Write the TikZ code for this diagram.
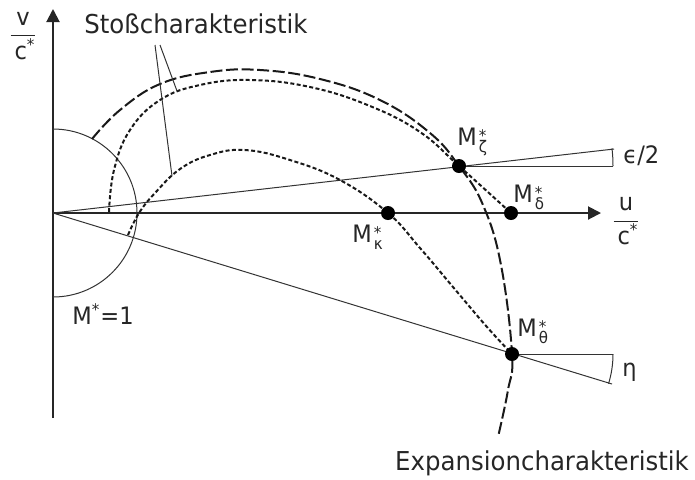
\documentclass[tikz,border=0pt]{standalone}
\usepackage{fontspec}
\setmainfont[FakeStretch=0.94]{DejaVu Sans}
\usetikzlibrary{arrows.meta}

% label for a state point: M with star over the index
\newcommand{\Mlab}[1]{M\kern1pt\raisebox{-3.8pt}{\fontsize{8}{8}\selectfont\makebox[0pt][l]{\raisebox{5.5pt}{*}}#1}}

\pgfdeclareradialshading{dotblur}{\pgfpoint{0bp}{0bp}}{color(0bp)=(black); color(28bp)=(black); color(50bp)=(white)}

\tikzset{
  axis/.style={line width=1pt, draw=black!85, -{Triangle[length=6.5pt,width=6.5pt]}},
  thinline/.style={line width=0.5pt, draw=black!80},
  shockpolar/.style={line width=1pt, draw=black!90, dash pattern=on 2pt off 1.2pt},
  expansion/.style={line width=1pt, draw=black!90, dash pattern=on 6pt off 1.8pt},
  statept/.style={circle, minimum size=7pt, inner sep=0pt, shading=dotblur},
  lbl/.style={font=\fontsize{12}{14}\selectfont, text=black!85, inner sep=0pt},
  biglbl/.style={font=\fontsize{13}{15}\selectfont, text=black!85, inner sep=0pt}
}

\begin{document}
\begin{tikzpicture}[x=0.5pt, y=-0.5pt]
\useasboundingbox (0,0) rectangle (695,479);

% Points
\coordinate (O) at (53,213);
\coordinate (Mz) at (459,166);
\coordinate (Md) at (511,213);
\coordinate (Mk) at (388,213);
\coordinate (Mt) at (512,354);

% Axes
\coordinate (vbot) at (53,418);
\coordinate (vtop) at (53,9);
\coordinate (uend) at (601,213);
\draw[axis] (vbot) -- (vtop);
\draw[axis] (O) -- (uend);
\node[lbl] (vlab) at (23,36) {$\displaystyle\frac{\mbox{\,v\,}}{\mbox{\,c\textsuperscript{*}}}$};
\node[lbl] (ulab) at (626,221) {$\displaystyle\frac{\mbox{\,u\,}}{\mbox{\,c\textsuperscript{*}}}$};

% Sonic circle
\draw[thinline] (O) ++(0,-84) arc[start angle=-90, end angle=90, radius=84];
\node[lbl, anchor=base west] (Mone) at (72,324) {M\textsuperscript{*}=1};

% Deflection lines
\coordinate (Ee) at (614,149);
\coordinate (Eh) at (613,166);
\draw[thinline] (O) -- (Ee);
\draw[thinline] (Mz) -- (Eh);
\draw[thinline] (Eh) arc[start angle=0, end angle=-6.6, radius=154];
\node[lbl, anchor=base west] (eps) at (623,163) {ϵ/2};

\coordinate (He) at (612,384);
\coordinate (Hh) at (613,354);
\draw[thinline] (O) -- (He);
\draw[thinline] (Mt) -- (Hh);
\draw[thinline] (Hh) arc[start angle=0, end angle=17.1, radius=101];
\node[lbl, anchor=base west] (eta) at (622,376) {η};

% Expansion characteristic
\draw[expansion] plot[smooth, tension=0.7] coordinates {(92,139) (120,110) (160,84) (210,72) (260,70) (320,79) (380,100) (430,133) (Mz) (483,205) (501,265) (Mt) (508,390) (498,437)};
\node[biglbl, anchor=base] (expan) at (542,470) {Expansioncharakteristik};

% Shock polars
\draw[shockpolar] plot[smooth, tension=0.7] coordinates {(109,212) (114,170) (130,130) (160,100) (200,85) (250,80) (310,87) (370,106) (420,132) (Mz) (Md)};
\draw[shockpolar] plot[smooth, tension=0.7] coordinates {(128,235) (139,213) (155,193) (180,169) (210,155) (245,150) (290,160) (340,180) (Mk) (420,248) (453,287) (487,327) (Mt)};
\node[biglbl, anchor=base] (stoss) at (196,33) {Stoßcharakteristik};
\coordinate (L1) at (155,45);
\coordinate (L2) at (160,45);
\coordinate (P1) at (172,176);
\coordinate (P2) at (177,91);
\draw[thinline] (L1) -- (P1);
\draw[thinline] (L2) -- (P2);

% State points
\node[statept] (dz) at (Mz) {};
\node[statept] (dd) at (Md) {};
\node[statept] (dk) at (Mk) {};
\node[statept] (dt) at (Mt) {};
\node[lbl, anchor=base west] (lz) at (457,145) {\Mlab{ζ}};
\node[lbl, anchor=base west] (ld) at (513,202) {\Mlab{δ}};
\node[lbl, anchor=base west] (lk) at (352,242) {\Mlab{κ}};
\node[lbl, anchor=base west] (lt) at (517,336) {\Mlab{θ}};
\end{tikzpicture}
\end{document}
